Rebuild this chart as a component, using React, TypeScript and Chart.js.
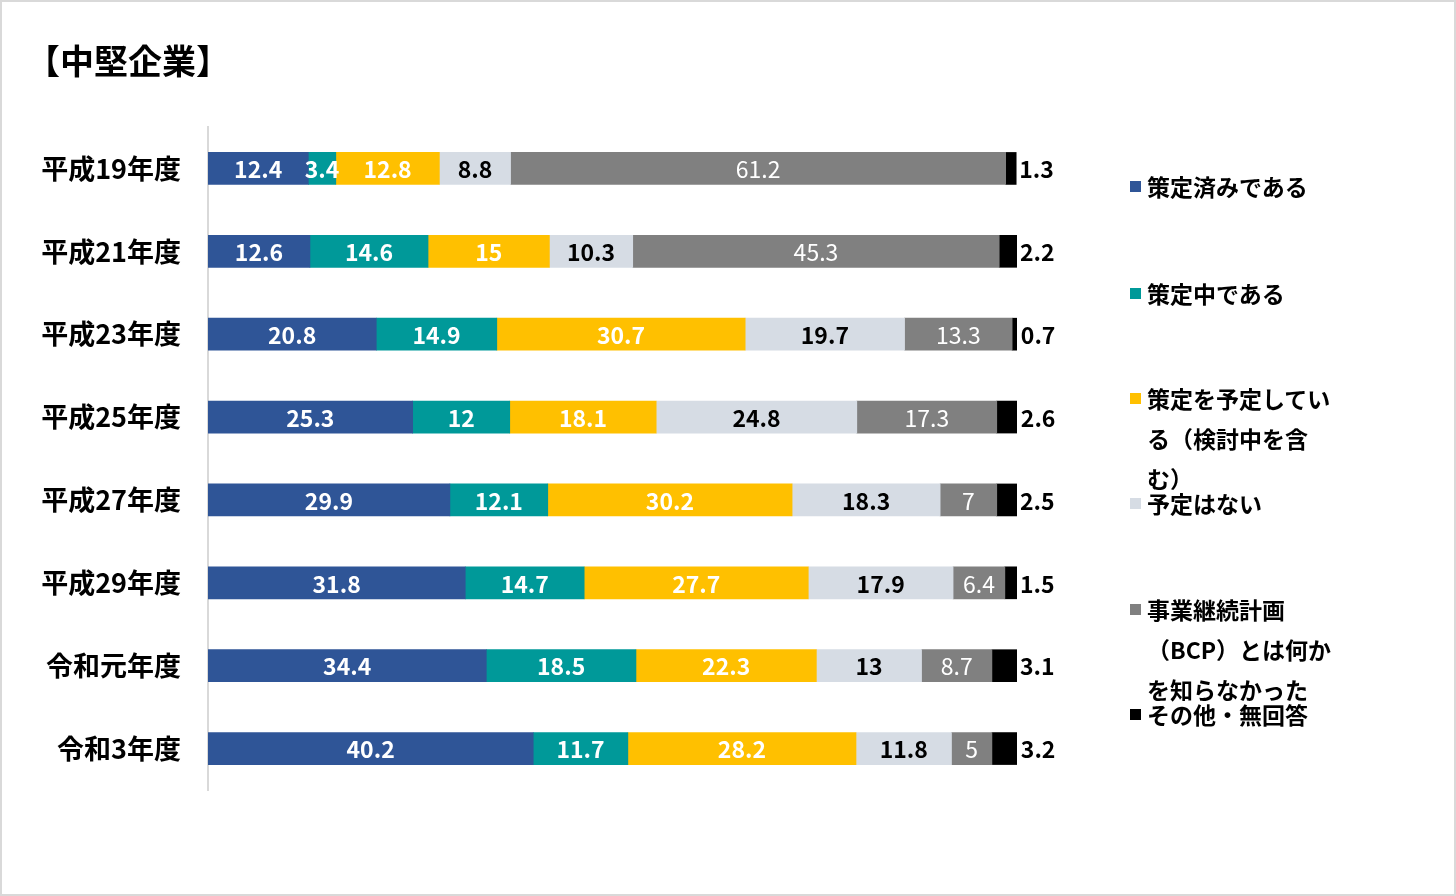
import React, { useEffect, useRef } from "react";
import { Chart, registerables } from "chart.js";

Chart.register(...registerables);

const categories = ["平成19年度", "平成21年度", "平成23年度", "平成25年度", "平成27年度", "平成29年度", "令和元年度", "令和3年度"];
const seriesNames = [
  "策定済みである",
  "策定中である",
  "策定を予定している（検討中を含む）",
  "予定はない",
  "事業継続計画（BCP）とは何かを知らなかった",
  "その他・無回答",
];
const completed = [12.4, 12.6, 20.8, 25.3, 29.9, 31.8, 34.4, 40.2];
const inProgress = [3.4, 14.6, 14.9, 12, 12.1, 14.7, 18.5, 11.7];
const planned = [12.8, 15, 30.7, 18.1, 30.2, 27.7, 22.3, 28.2];
const notPlanned = [8.8, 10.3, 19.7, 24.8, 18.3, 17.9, 13, 11.8];
const unaware = [61.2, 45.3, 13.3, 17.3, 7, 6.4, 8.7, 5];
const other = [1.3, 2.2, 0.7, 2.6, 2.5, 1.5, 3.1, 3.2];
const legendLines = [
  ["策定済みである"],
  ["策定中である"],
  ["策定を予定してい", "る（検討中を含", "む）"],
  ["予定はない"],
  ["事業継続計画", "（BCP）とは何か", "を知らなかった"],
  ["その他・無回答"],
];
const titleText = "【中堅企業】";

const seriesValues = [completed, inProgress, planned, notPlanned, unaware, other];
const colors = ["#2F5597", "#009999", "#FFC000", "#D6DCE4", "#808080", "#000000"];
const labelColors = ["#FFFFFF", "#FFFFFF", "#FFFFFF", "#000000", "#FFFFFF", "#000000"];
const labelWeights = ["bold", "bold", "bold", "bold", "normal", "bold"];
const legendY = [186, 293, 398, 503, 609, 714];
const FONT = "'Noto Sans CJK JP', 'Noto Sans', sans-serif";

const labelPlugin = {
  id: "barLabels",
  afterDatasetsDraw(chart: any) {
    const ctx = chart.ctx;
    ctx.save();
    ctx.textBaseline = "middle";
    chart.data.datasets.forEach((ds: any, di: number) => {
      const meta = chart.getDatasetMeta(di);
      meta.data.forEach((bar: any, i: number) => {
        const v = ds.data[i];
        ctx.font = `${labelWeights[di]} 23px ${FONT}`;
        ctx.fillStyle = labelColors[di];
        if (di === seriesValues.length - 1) {
          ctx.textAlign = "left";
          ctx.fillText(String(v), bar.x + 3, bar.y + 1);
        } else {
          ctx.textAlign = "center";
          ctx.fillText(String(v), (bar.x + bar.base) / 2, bar.y + 1);
        }
      });
    });
    ctx.restore();
  },
};

export default function App() {
  const canvasRef = useRef<HTMLCanvasElement>(null);

  useEffect(() => {
    if (!canvasRef.current) return;
    const chart = new Chart(canvasRef.current, {
      type: "bar",
      data: {
        labels: categories,
        datasets: seriesNames.map((name, i) => ({
          label: name,
          data: seriesValues[i],
          backgroundColor: colors[i],
          borderWidth: 0,
          barThickness: 32,
        })),
      },
      options: {
        indexAxis: "y",
        responsive: false,
        animation: false,
        devicePixelRatio: 1,
        layout: { padding: { left: 0, top: 127, right: 439, bottom: 106 } },
        plugins: { legend: { display: false }, tooltip: { enabled: false }, title: { display: false } },
        scales: {
          x: { stacked: true, min: 0, max: 100, display: false },
          y: {
            stacked: true,
            grid: { display: false, drawTicks: false },
            border: { display: true, color: "#D9D9D9", width: 2 },
            ticks: {
              padding: 27,
              color: "#000000",
              font: { family: FONT, size: 27, weight: "bold" },
            },
            afterFit(scale: any) {
              scale.width = 208;
            },
          },
        },
      } as any,
      plugins: [labelPlugin],
    });
    return () => chart.destroy();
  }, []);

  return (
    <div style={{ position: "fixed", left: 0, top: 0, width: 1456, height: 896, background: "#FFFFFF", fontFamily: FONT }}>
      <canvas ref={canvasRef} width={1456} height={896} style={{ position: "absolute", left: 0, top: 0, width: 1456, height: 896 }} />
      <div style={{ position: "absolute", left: 26, top: 36, fontSize: 34, fontWeight: "bold", lineHeight: "48px", color: "#000", whiteSpace: "nowrap" }}>{titleText}</div>
      {legendLines.map((lines, i) => (
        <div key={i}>
          <div style={{ position: "absolute", left: 1130, top: legendY[i] - 5, width: 11, height: 11, background: colors[i] }} />
          {lines.map((line, j) => (
            <div
              key={j}
              style={{
                position: "absolute",
                left: 1147,
                top: legendY[i] + j * 40 - 20,
                height: 40,
                lineHeight: "40px",
                fontSize: 23,
                fontWeight: "bold",
                color: "#000",
                whiteSpace: "nowrap",
              }}
            >
              {line}
            </div>
          ))}
        </div>
      ))}
      <div style={{ position: "absolute", left: 0, top: 0, width: 1456, height: 896, boxSizing: "border-box", border: "2px solid #D9D9D9", pointerEvents: "none" }} />
    </div>
  );
}
